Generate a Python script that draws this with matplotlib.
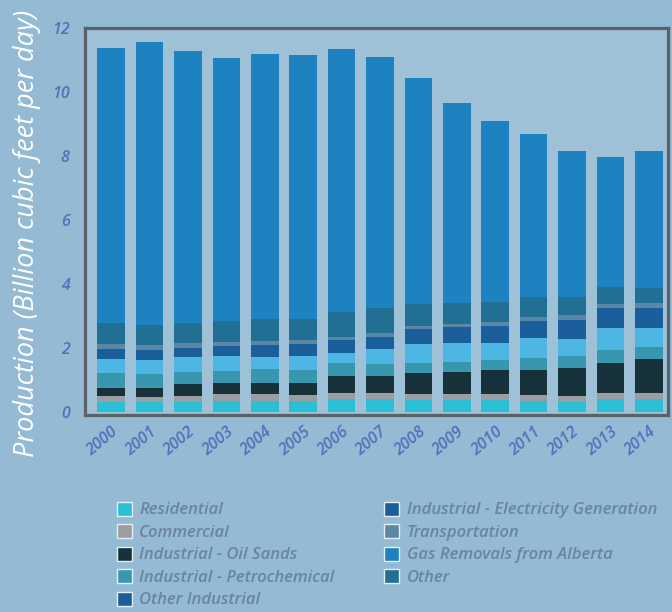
import matplotlib
matplotlib.use('Agg')
import matplotlib.pyplot as plt
import numpy as np
from matplotlib.patches import Patch

years = [str(y) for y in range(2000, 2015)]

residential = [0.32, 0.32, 0.32, 0.34, 0.34, 0.34, 0.40, 0.40, 0.375, 0.375, 0.375, 0.34, 0.32, 0.40, 0.40]
commercial = [0.18, 0.16, 0.19, 0.21, 0.21, 0.19, 0.20, 0.18, 0.185, 0.185, 0.185, 0.19, 0.18, 0.20, 0.18]
oil_sands = [0.25, 0.26, 0.35, 0.37, 0.37, 0.39, 0.525, 0.545, 0.65, 0.70, 0.75, 0.78, 0.88, 0.94, 1.07]
petrochemical = [0.46, 0.45, 0.40, 0.37, 0.41, 0.39, 0.395, 0.375, 0.33, 0.31, 0.315, 0.37, 0.37, 0.40, 0.39]
other_industrial = [0.46, 0.44, 0.45, 0.46, 0.38, 0.44, 0.31, 0.46, 0.585, 0.58, 0.545, 0.62, 0.52, 0.68, 0.58]
electricity = [0.29, 0.31, 0.28, 0.31, 0.38, 0.36, 0.42, 0.39, 0.455, 0.50, 0.53, 0.55, 0.60, 0.62, 0.62]
transportation = [0.15, 0.15, 0.16, 0.14, 0.14, 0.14, 0.10, 0.11, 0.11, 0.09, 0.12, 0.13, 0.16, 0.13, 0.16]
other = [0.68, 0.63, 0.64, 0.64, 0.67, 0.67, 0.76, 0.78, 0.685, 0.66, 0.63, 0.62, 0.57, 0.55, 0.48]
gas_removals = [8.58, 8.84, 8.49, 8.22, 8.29, 8.24, 8.23, 7.85, 7.065, 6.25, 5.64, 5.09, 4.56, 4.06, 4.28]

# stacking order bottom -> top, as drawn in the bars
stack = [
    ('Residential', residential, '#2bbfd6'),
    ('Commercial', commercial, '#9a9ea3'),
    ('Industrial - Oil Sands', oil_sands, '#17313b'),
    ('Industrial - Petrochemical', petrochemical, '#3896ae'),
    ('Other Industrial', other_industrial, '#4db6e3'),
    ('Industrial - Electricity Generation', electricity, '#1a5f9c'),
    ('Transportation', transportation, '#5a87a5'),
    ('Other', other, '#216f93'),
    ('Gas Removals from Alberta', gas_removals, '#1f82c0'),
]
legend_order = ['Residential', 'Commercial', 'Industrial - Oil Sands',
                'Industrial - Petrochemical', 'Other Industrial',
                'Industrial - Electricity Generation', 'Transportation',
                'Gas Removals from Alberta', 'Other']
legend_colors = {'Other Industrial': '#1a5f9c'}

bg = '#94bad4'
fig = plt.figure(figsize=(6.72, 6.12), dpi=100, facecolor=bg)
ax = fig.add_axes([85 / 672, 1 - 414.5 / 612, 583 / 672, 386.5 / 612])
ax.set_facecolor('#9fc1d8')

x = np.arange(len(years))
bottom = np.zeros(len(years))
colors = {}
for name, vals, col in stack:
    ax.bar(x, vals, width=0.72, bottom=bottom, color=col, linewidth=0)
    bottom += np.array(vals)
    colors[name] = col

ax.set_xlim(-0.68, 14.5)
ax.set_ylim(-0.08, 12)
ax.set_yticks(range(0, 13, 2))
ax.set_xticks(x)
ax.set_xticklabels(years, rotation=40, ha='right', va='top', rotation_mode='anchor')
ax.tick_params(length=0)
ax.tick_params(axis='y', pad=11)
ax.tick_params(axis='x', pad=7)
for lab in ax.get_xticklabels() + ax.get_yticklabels():
    lab.set_family('Open Sans')
    lab.set_style('italic')
    lab.set_weight('semibold')
    lab.set_color('#4e73bb')
    lab.set_fontsize(11.5)
for s in ax.spines.values():
    s.set_color('#5b6168')
    s.set_linewidth(2.3)

fig.text(0.04, 1 - 233 / 612, 'Production (Billion cubic feet per day)', rotation=90,
         ha='center', va='center', color='white', fontsize=19.5,
         family='Open Sans', style='italic')

handles = [Patch(facecolor=legend_colors.get(n, colors[n]), edgecolor='#e6eef4',
                 linewidth=1.0, label=n) for n in legend_order]
leg = fig.legend(handles=handles, ncol=2, loc='upper left',
                 bbox_to_anchor=(110 / 672, 1 - 495 / 612), frameon=False,
                 prop={'family': 'Open Sans', 'style': 'italic', 'weight': 'semibold', 'size': 12},
                 handlelength=0.9, handleheight=0.9, handletextpad=0.45,
                 labelspacing=0.35, columnspacing=3.0, borderaxespad=0)
for t in leg.get_texts():
    t.set_color('#6985a0')

fig.savefig('out.png', dpi=100, facecolor=bg)
